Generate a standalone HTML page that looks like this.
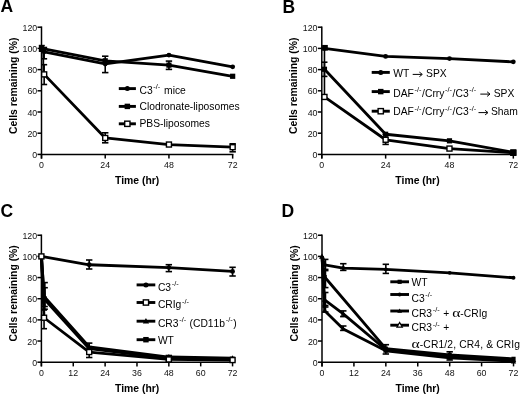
<!DOCTYPE html><html><head><meta charset="utf-8"><style>
html,body{margin:0;padding:0;background:#fff;}
body{width:520px;height:394px;overflow:hidden;}
svg{display:block;font-family:"Liberation Sans", sans-serif;filter:blur(0.3px);}
.tk{font-size:8.8px;fill:#111;}
.ttl{font-size:17.5px;font-weight:bold;fill:#000;}
.lab{font-size:10.4px;font-weight:bold;fill:#000;}
.lg{font-size:10.3px;fill:#000;font-kerning:none;}
.sp{font-size:6.4px;}
</style></head><body>
<svg width="520" height="394" viewBox="0 0 520 394">
<rect width="520" height="394" fill="#fff"/>
<line x1="41.50" y1="26.45" x2="41.50" y2="158.60" stroke="#000" stroke-width="1.5"/>
<line x1="40.75" y1="154.40" x2="233.41" y2="154.40" stroke="#000" stroke-width="1.5"/>
<line x1="37.50" y1="154.40" x2="41.50" y2="154.40" stroke="#000" stroke-width="1.5"/>
<text x="37.20" y="158.00" class="tk" text-anchor="end">0</text>
<line x1="37.50" y1="133.20" x2="41.50" y2="133.20" stroke="#000" stroke-width="1.5"/>
<text x="37.20" y="136.80" class="tk" text-anchor="end">20</text>
<line x1="37.50" y1="112.00" x2="41.50" y2="112.00" stroke="#000" stroke-width="1.5"/>
<text x="37.20" y="115.60" class="tk" text-anchor="end">40</text>
<line x1="37.50" y1="90.80" x2="41.50" y2="90.80" stroke="#000" stroke-width="1.5"/>
<text x="37.20" y="94.40" class="tk" text-anchor="end">60</text>
<line x1="37.50" y1="69.60" x2="41.50" y2="69.60" stroke="#000" stroke-width="1.5"/>
<text x="37.20" y="73.20" class="tk" text-anchor="end">80</text>
<line x1="37.50" y1="48.40" x2="41.50" y2="48.40" stroke="#000" stroke-width="1.5"/>
<text x="37.20" y="52.00" class="tk" text-anchor="end">100</text>
<line x1="37.50" y1="27.20" x2="41.50" y2="27.20" stroke="#000" stroke-width="1.5"/>
<text x="37.20" y="30.80" class="tk" text-anchor="end">120</text>
<line x1="41.50" y1="154.40" x2="41.50" y2="158.60" stroke="#000" stroke-width="1.5"/>
<text x="41.50" y="168.00" class="tk" text-anchor="middle">0</text>
<line x1="105.22" y1="154.40" x2="105.22" y2="158.60" stroke="#000" stroke-width="1.5"/>
<text x="105.22" y="168.00" class="tk" text-anchor="middle">24</text>
<line x1="168.94" y1="154.40" x2="168.94" y2="158.60" stroke="#000" stroke-width="1.5"/>
<text x="168.94" y="168.00" class="tk" text-anchor="middle">48</text>
<line x1="232.66" y1="154.40" x2="232.66" y2="158.60" stroke="#000" stroke-width="1.5"/>
<text x="232.66" y="168.00" class="tk" text-anchor="middle">72</text>
<text x="0.4" y="12.4" class="ttl">A</text>
<text transform="translate(17.0,85.8) rotate(-90)" class="lab" text-anchor="middle">Cells remaining (%)</text>
<text x="137.2" y="183.8" class="lab" text-anchor="middle">Time (hr)</text>
<line x1="44.16" y1="47.50" x2="44.16" y2="58.80" stroke="#000" stroke-width="1.6"/>
<line x1="41.16" y1="47.50" x2="47.16" y2="47.50" stroke="#000" stroke-width="1.6"/>
<line x1="41.16" y1="58.80" x2="47.16" y2="58.80" stroke="#000" stroke-width="1.6"/>
<line x1="44.16" y1="64.70" x2="44.16" y2="84.50" stroke="#000" stroke-width="1.6"/>
<line x1="41.16" y1="64.70" x2="47.16" y2="64.70" stroke="#000" stroke-width="1.6"/>
<line x1="41.16" y1="84.50" x2="47.16" y2="84.50" stroke="#000" stroke-width="1.6"/>
<line x1="43.3" y1="50" x2="43.3" y2="71.5" stroke="#000" stroke-width="1.8"/>
<line x1="41.80" y1="45.60" x2="41.80" y2="51.20" stroke="#000" stroke-width="1.6"/>
<line x1="38.80" y1="45.60" x2="44.80" y2="45.60" stroke="#000" stroke-width="1.6"/>
<line x1="38.80" y1="51.20" x2="44.80" y2="51.20" stroke="#000" stroke-width="1.6"/>
<line x1="105.22" y1="56.20" x2="105.22" y2="72.60" stroke="#000" stroke-width="1.6"/>
<line x1="102.02" y1="56.20" x2="108.42" y2="56.20" stroke="#000" stroke-width="1.6"/>
<line x1="102.02" y1="72.60" x2="108.42" y2="72.60" stroke="#000" stroke-width="1.6"/>
<line x1="168.94" y1="61.10" x2="168.94" y2="69.40" stroke="#000" stroke-width="1.6"/>
<line x1="165.74" y1="61.10" x2="172.14" y2="61.10" stroke="#000" stroke-width="1.6"/>
<line x1="165.74" y1="69.40" x2="172.14" y2="69.40" stroke="#000" stroke-width="1.6"/>
<line x1="105.22" y1="132.80" x2="105.22" y2="142.80" stroke="#000" stroke-width="1.6"/>
<line x1="102.02" y1="132.80" x2="108.42" y2="132.80" stroke="#000" stroke-width="1.6"/>
<line x1="102.02" y1="142.80" x2="108.42" y2="142.80" stroke="#000" stroke-width="1.6"/>
<line x1="232.66" y1="143.80" x2="232.66" y2="151.80" stroke="#000" stroke-width="1.6"/>
<line x1="229.46" y1="143.80" x2="235.86" y2="143.80" stroke="#000" stroke-width="1.6"/>
<line x1="229.46" y1="151.80" x2="235.86" y2="151.80" stroke="#000" stroke-width="1.6"/>
<polyline points="44.16,51.79 105.22,63.98 168.94,55.08 232.66,66.84" fill="none" stroke="#000" stroke-width="2.8" stroke-linejoin="round"/>
<polyline points="41.50,48.40 105.22,60.80 168.94,65.15 232.66,76.28" fill="none" stroke="#000" stroke-width="2.8" stroke-linejoin="round"/>
<polyline points="44.16,74.37 105.22,137.97 168.94,144.54 232.66,147.19" fill="none" stroke="#000" stroke-width="2.8" stroke-linejoin="round"/>
<circle cx="44.16" cy="51.79" r="2.40" fill="#000"/>
<circle cx="105.22" cy="63.98" r="2.40" fill="#000"/>
<circle cx="168.94" cy="55.08" r="2.40" fill="#000"/>
<circle cx="232.66" cy="66.84" r="2.40" fill="#000"/>
<rect x="38.90" y="45.80" width="5.20" height="5.20" fill="#000"/>
<rect x="102.62" y="58.20" width="5.20" height="5.20" fill="#000"/>
<rect x="166.34" y="62.55" width="5.20" height="5.20" fill="#000"/>
<rect x="230.06" y="73.68" width="5.20" height="5.20" fill="#000"/>
<rect x="41.66" y="71.87" width="5.00" height="5.00" fill="#fff" stroke="#000" stroke-width="1.4"/>
<rect x="102.72" y="135.47" width="5.00" height="5.00" fill="#fff" stroke="#000" stroke-width="1.4"/>
<rect x="166.44" y="142.04" width="5.00" height="5.00" fill="#fff" stroke="#000" stroke-width="1.4"/>
<rect x="230.16" y="144.69" width="5.00" height="5.00" fill="#fff" stroke="#000" stroke-width="1.4"/>
<line x1="118.80" y1="88.60" x2="135.90" y2="88.60" stroke="#000" stroke-width="2.9"/>
<circle cx="127.35" cy="88.60" r="2.52" fill="#000"/>
<line x1="118.80" y1="106.40" x2="135.90" y2="106.40" stroke="#000" stroke-width="2.9"/>
<rect x="124.62" y="103.67" width="5.46" height="5.46" fill="#000"/>
<line x1="118.80" y1="123.80" x2="135.90" y2="123.80" stroke="#000" stroke-width="2.9"/>
<rect x="124.72" y="121.17" width="5.25" height="5.25" fill="#fff" stroke="#000" stroke-width="1.4"/>
<text class="lg"><tspan x="139.50" y="93.60">C3</tspan><tspan x="153.37" y="89.20" font-size="7.3">-/-</tspan><tspan x="164.10" y="93.60">mice</tspan></text>
<text class="lg"><tspan x="139.50" y="109.80">Clodronate-liposomes</tspan></text>
<text class="lg"><tspan x="139.50" y="127.00">PBS-liposomes</tspan></text>
<line x1="321.80" y1="26.45" x2="321.80" y2="158.60" stroke="#000" stroke-width="1.5"/>
<line x1="321.05" y1="154.40" x2="514.07" y2="154.40" stroke="#000" stroke-width="1.5"/>
<line x1="317.80" y1="154.40" x2="321.80" y2="154.40" stroke="#000" stroke-width="1.5"/>
<text x="317.50" y="158.00" class="tk" text-anchor="end">0</text>
<line x1="317.80" y1="133.20" x2="321.80" y2="133.20" stroke="#000" stroke-width="1.5"/>
<text x="317.50" y="136.80" class="tk" text-anchor="end">20</text>
<line x1="317.80" y1="112.00" x2="321.80" y2="112.00" stroke="#000" stroke-width="1.5"/>
<text x="317.50" y="115.60" class="tk" text-anchor="end">40</text>
<line x1="317.80" y1="90.80" x2="321.80" y2="90.80" stroke="#000" stroke-width="1.5"/>
<text x="317.50" y="94.40" class="tk" text-anchor="end">60</text>
<line x1="317.80" y1="69.60" x2="321.80" y2="69.60" stroke="#000" stroke-width="1.5"/>
<text x="317.50" y="73.20" class="tk" text-anchor="end">80</text>
<line x1="317.80" y1="48.40" x2="321.80" y2="48.40" stroke="#000" stroke-width="1.5"/>
<text x="317.50" y="52.00" class="tk" text-anchor="end">100</text>
<line x1="317.80" y1="27.20" x2="321.80" y2="27.20" stroke="#000" stroke-width="1.5"/>
<text x="317.50" y="30.80" class="tk" text-anchor="end">120</text>
<line x1="321.80" y1="154.40" x2="321.80" y2="158.60" stroke="#000" stroke-width="1.5"/>
<text x="321.80" y="168.00" class="tk" text-anchor="middle">0</text>
<line x1="385.64" y1="154.40" x2="385.64" y2="158.60" stroke="#000" stroke-width="1.5"/>
<text x="385.64" y="168.00" class="tk" text-anchor="middle">24</text>
<line x1="449.48" y1="154.40" x2="449.48" y2="158.60" stroke="#000" stroke-width="1.5"/>
<text x="449.48" y="168.00" class="tk" text-anchor="middle">48</text>
<line x1="513.32" y1="154.40" x2="513.32" y2="158.60" stroke="#000" stroke-width="1.5"/>
<text x="513.32" y="168.00" class="tk" text-anchor="middle">72</text>
<text x="282.5" y="12.5" class="ttl">B</text>
<text transform="translate(297.3,85.8) rotate(-90)" class="lab" text-anchor="middle">Cells remaining (%)</text>
<text x="417.5" y="183.8" class="lab" text-anchor="middle">Time (hr)</text>
<line x1="324.46" y1="48.40" x2="324.46" y2="97.16" stroke="#000" stroke-width="1.6"/>
<line x1="324.36" y1="48.40" x2="324.56" y2="48.40" stroke="#000" stroke-width="1.6"/>
<line x1="324.36" y1="97.16" x2="324.56" y2="97.16" stroke="#000" stroke-width="1.6"/>
<line x1="324.46" y1="62.20" x2="324.46" y2="76.40" stroke="#000" stroke-width="1.6"/>
<line x1="321.46" y1="62.20" x2="327.46" y2="62.20" stroke="#000" stroke-width="1.6"/>
<line x1="321.46" y1="76.40" x2="327.46" y2="76.40" stroke="#000" stroke-width="1.6"/>
<line x1="385.64" y1="134.26" x2="385.64" y2="144.40" stroke="#000" stroke-width="1.6"/>
<line x1="382.44" y1="134.26" x2="388.84" y2="134.26" stroke="#000" stroke-width="1.6"/>
<line x1="382.44" y1="144.40" x2="388.84" y2="144.40" stroke="#000" stroke-width="1.6"/>
<polyline points="324.46,48.40 385.64,56.46 449.48,58.58 513.32,61.86" fill="none" stroke="#000" stroke-width="2.8" stroke-linejoin="round"/>
<polyline points="324.46,69.28 385.64,134.26 449.48,140.83 513.32,152.28" fill="none" stroke="#000" stroke-width="2.8" stroke-linejoin="round"/>
<polyline points="324.46,96.95 385.64,139.77 449.48,148.57 513.32,152.81" fill="none" stroke="#000" stroke-width="2.8" stroke-linejoin="round"/>
<circle cx="324.46" cy="48.40" r="2.40" fill="#000"/>
<circle cx="385.64" cy="56.46" r="2.40" fill="#000"/>
<circle cx="449.48" cy="58.58" r="2.40" fill="#000"/>
<circle cx="513.32" cy="61.86" r="2.40" fill="#000"/>
<rect x="321.96" y="94.45" width="5.00" height="5.00" fill="#fff" stroke="#000" stroke-width="1.4"/>
<rect x="383.14" y="137.27" width="5.00" height="5.00" fill="#fff" stroke="#000" stroke-width="1.4"/>
<rect x="446.98" y="146.07" width="5.00" height="5.00" fill="#fff" stroke="#000" stroke-width="1.4"/>
<rect x="510.82" y="150.31" width="5.00" height="5.00" fill="#fff" stroke="#000" stroke-width="1.4"/>
<rect x="321.86" y="66.68" width="5.20" height="5.20" fill="#000"/>
<rect x="383.04" y="131.66" width="5.20" height="5.20" fill="#000"/>
<rect x="446.88" y="138.23" width="5.20" height="5.20" fill="#000"/>
<rect x="510.33" y="149.29" width="5.98" height="5.98" fill="#000"/>
<rect x="322.10" y="44.94" width="5.72" height="5.72" fill="#000"/>
<line x1="371.70" y1="72.40" x2="389.80" y2="72.40" stroke="#000" stroke-width="2.9"/>
<circle cx="380.75" cy="72.40" r="2.52" fill="#000"/>
<line x1="371.70" y1="91.60" x2="389.80" y2="91.60" stroke="#000" stroke-width="2.9"/>
<rect x="378.02" y="88.87" width="5.46" height="5.46" fill="#000"/>
<line x1="371.70" y1="111.20" x2="389.80" y2="111.20" stroke="#000" stroke-width="2.9"/>
<rect x="378.12" y="108.58" width="5.25" height="5.25" fill="#fff" stroke="#000" stroke-width="1.4"/>
<path d="M412.70,74.40 H421.70 M419.40,72.10 L422.30,74.40 L419.40,76.70" fill="none" stroke="#000" stroke-width="1.0"/>
<text class="lg"><tspan x="393.30" y="76.80">WT</tspan><tspan x="426.10" y="76.80">SPX</tspan></text>
<path d="M480.30,94.10 H489.40 M487.10,91.80 L490.00,94.10 L487.10,96.40" fill="none" stroke="#000" stroke-width="1.0"/>
<text class="lg"><tspan x="393.30" y="96.50">DAF</tspan><tspan x="414.60" y="92.10" font-size="7.3">-/-</tspan><tspan x="422.10" y="96.50">/Crry</tspan><tspan x="445.11" y="92.10" font-size="7.3">-/-</tspan><tspan x="452.61" y="96.50">/C3</tspan><tspan x="469.34" y="92.10" font-size="7.3">-/-</tspan><tspan x="493.70" y="96.50">SPX</tspan></text>
<path d="M478.50,112.60 H487.40 M485.10,110.30 L488.00,112.60 L485.10,114.90" fill="none" stroke="#000" stroke-width="1.0"/>
<text class="lg"><tspan x="393.30" y="115.00">DAF</tspan><tspan x="414.60" y="110.60" font-size="7.3">-/-</tspan><tspan x="422.10" y="115.00">/Crry</tspan><tspan x="445.11" y="110.60" font-size="7.3">-/-</tspan><tspan x="452.61" y="115.00">/C3</tspan><tspan x="469.34" y="110.60" font-size="7.3">-/-</tspan><tspan x="491.00" y="115.00">Sham</tspan></text>
<line x1="41.40" y1="234.49" x2="41.40" y2="366.40" stroke="#000" stroke-width="1.5"/>
<line x1="40.65" y1="362.20" x2="233.31" y2="362.20" stroke="#000" stroke-width="1.5"/>
<line x1="37.40" y1="362.20" x2="41.40" y2="362.20" stroke="#000" stroke-width="1.5"/>
<text x="37.10" y="365.80" class="tk" text-anchor="end">0</text>
<line x1="37.40" y1="341.04" x2="41.40" y2="341.04" stroke="#000" stroke-width="1.5"/>
<text x="37.10" y="344.64" class="tk" text-anchor="end">20</text>
<line x1="37.40" y1="319.88" x2="41.40" y2="319.88" stroke="#000" stroke-width="1.5"/>
<text x="37.10" y="323.48" class="tk" text-anchor="end">40</text>
<line x1="37.40" y1="298.72" x2="41.40" y2="298.72" stroke="#000" stroke-width="1.5"/>
<text x="37.10" y="302.32" class="tk" text-anchor="end">60</text>
<line x1="37.40" y1="277.56" x2="41.40" y2="277.56" stroke="#000" stroke-width="1.5"/>
<text x="37.10" y="281.16" class="tk" text-anchor="end">80</text>
<line x1="37.40" y1="256.40" x2="41.40" y2="256.40" stroke="#000" stroke-width="1.5"/>
<text x="37.10" y="260.00" class="tk" text-anchor="end">100</text>
<line x1="37.40" y1="235.24" x2="41.40" y2="235.24" stroke="#000" stroke-width="1.5"/>
<text x="37.10" y="238.84" class="tk" text-anchor="end">120</text>
<line x1="41.40" y1="362.20" x2="41.40" y2="366.40" stroke="#000" stroke-width="1.5"/>
<text x="41.40" y="375.80" class="tk" text-anchor="middle">0</text>
<line x1="73.26" y1="362.20" x2="73.26" y2="366.40" stroke="#000" stroke-width="1.5"/>
<text x="73.26" y="375.80" class="tk" text-anchor="middle">12</text>
<line x1="105.12" y1="362.20" x2="105.12" y2="366.40" stroke="#000" stroke-width="1.5"/>
<text x="105.12" y="375.80" class="tk" text-anchor="middle">24</text>
<line x1="136.98" y1="362.20" x2="136.98" y2="366.40" stroke="#000" stroke-width="1.5"/>
<text x="136.98" y="375.80" class="tk" text-anchor="middle">36</text>
<line x1="168.84" y1="362.20" x2="168.84" y2="366.40" stroke="#000" stroke-width="1.5"/>
<text x="168.84" y="375.80" class="tk" text-anchor="middle">48</text>
<line x1="200.70" y1="362.20" x2="200.70" y2="366.40" stroke="#000" stroke-width="1.5"/>
<text x="200.70" y="375.80" class="tk" text-anchor="middle">60</text>
<line x1="232.56" y1="362.20" x2="232.56" y2="366.40" stroke="#000" stroke-width="1.5"/>
<text x="232.56" y="375.80" class="tk" text-anchor="middle">72</text>
<text x="0.6" y="217.4" class="ttl">C</text>
<text transform="translate(17.0,293.4) rotate(-90)" class="lab" text-anchor="middle">Cells remaining (%)</text>
<text x="137.2" y="391.6" class="lab" text-anchor="middle">Time (hr)</text>
<line x1="89.19" y1="260.00" x2="89.19" y2="269.00" stroke="#000" stroke-width="1.6"/>
<line x1="85.99" y1="260.00" x2="92.39" y2="260.00" stroke="#000" stroke-width="1.6"/>
<line x1="85.99" y1="269.00" x2="92.39" y2="269.00" stroke="#000" stroke-width="1.6"/>
<line x1="168.84" y1="264.70" x2="168.84" y2="271.60" stroke="#000" stroke-width="1.6"/>
<line x1="165.64" y1="264.70" x2="172.04" y2="264.70" stroke="#000" stroke-width="1.6"/>
<line x1="165.64" y1="271.60" x2="172.04" y2="271.60" stroke="#000" stroke-width="1.6"/>
<line x1="232.56" y1="267.30" x2="232.56" y2="276.00" stroke="#000" stroke-width="1.6"/>
<line x1="229.36" y1="267.30" x2="235.76" y2="267.30" stroke="#000" stroke-width="1.6"/>
<line x1="229.36" y1="276.00" x2="235.76" y2="276.00" stroke="#000" stroke-width="1.6"/>
<line x1="44.85" y1="282.60" x2="44.85" y2="309.20" stroke="#000" stroke-width="1.6"/>
<line x1="41.85" y1="282.60" x2="47.85" y2="282.60" stroke="#000" stroke-width="1.6"/>
<line x1="41.85" y1="309.20" x2="47.85" y2="309.20" stroke="#000" stroke-width="1.6"/>
<line x1="44.85" y1="287.70" x2="44.85" y2="306.50" stroke="#000" stroke-width="1.6"/>
<line x1="41.85" y1="287.70" x2="47.85" y2="287.70" stroke="#000" stroke-width="1.6"/>
<line x1="41.85" y1="306.50" x2="47.85" y2="306.50" stroke="#000" stroke-width="1.6"/>
<line x1="44.05" y1="310.00" x2="44.05" y2="328.70" stroke="#000" stroke-width="1.6"/>
<line x1="41.05" y1="310.00" x2="47.05" y2="310.00" stroke="#000" stroke-width="1.6"/>
<line x1="41.05" y1="328.70" x2="47.05" y2="328.70" stroke="#000" stroke-width="1.6"/>
<line x1="89.19" y1="343.10" x2="89.19" y2="357.50" stroke="#000" stroke-width="1.6"/>
<line x1="85.99" y1="343.10" x2="92.39" y2="343.10" stroke="#000" stroke-width="1.6"/>
<line x1="85.99" y1="357.50" x2="92.39" y2="357.50" stroke="#000" stroke-width="1.6"/>
<line x1="168.84" y1="355.50" x2="168.84" y2="361.00" stroke="#000" stroke-width="1.6"/>
<line x1="165.64" y1="355.50" x2="172.04" y2="355.50" stroke="#000" stroke-width="1.6"/>
<line x1="165.64" y1="361.00" x2="172.04" y2="361.00" stroke="#000" stroke-width="1.6"/>
<polyline points="41.40,256.40 89.19,264.76 168.84,267.61 232.56,271.42" fill="none" stroke="#000" stroke-width="2.8" stroke-linejoin="round"/>
<polyline points="41.40,256.40 44.05,298.72 89.19,348.45 168.84,358.18 232.56,359.24" fill="none" stroke="#000" stroke-width="3.0" stroke-linejoin="round"/>
<polyline points="41.40,256.40 44.05,296.60 89.19,346.96 168.84,357.12 232.56,358.18" fill="none" stroke="#000" stroke-width="3.0" stroke-linejoin="round"/>
<polyline points="41.40,256.40 44.05,317.76 89.19,352.04 168.84,359.45 232.56,360.08" fill="none" stroke="#000" stroke-width="2.8" stroke-linejoin="round"/>
<circle cx="89.19" cy="264.76" r="2.40" fill="#000"/>
<circle cx="168.84" cy="267.61" r="2.40" fill="#000"/>
<circle cx="232.56" cy="271.42" r="2.40" fill="#000"/>
<path d="M44.05,293.60 L47.05,298.85 L41.05,298.85 Z" fill="#000"/>
<path d="M89.19,343.96 L92.19,349.21 L86.19,349.21 Z" fill="#000"/>
<path d="M168.84,354.12 L171.84,359.37 L165.84,359.37 Z" fill="#000"/>
<path d="M232.56,355.18 L235.56,360.43 L229.56,360.43 Z" fill="#000"/>
<rect x="41.45" y="296.12" width="5.20" height="5.20" fill="#000"/>
<rect x="86.59" y="345.85" width="5.20" height="5.20" fill="#000"/>
<rect x="166.24" y="355.58" width="5.20" height="5.20" fill="#000"/>
<rect x="229.96" y="356.64" width="5.20" height="5.20" fill="#000"/>
<rect x="38.90" y="253.90" width="5.00" height="5.00" fill="#fff" stroke="#000" stroke-width="1.4"/>
<rect x="41.55" y="315.26" width="5.00" height="5.00" fill="#fff" stroke="#000" stroke-width="1.4"/>
<rect x="86.69" y="349.54" width="5.00" height="5.00" fill="#fff" stroke="#000" stroke-width="1.4"/>
<rect x="166.34" y="356.95" width="5.00" height="5.00" fill="#fff" stroke="#000" stroke-width="1.4"/>
<rect x="230.06" y="357.58" width="5.00" height="5.00" fill="#fff" stroke="#000" stroke-width="1.4"/>
<line x1="136.60" y1="284.90" x2="155.30" y2="284.90" stroke="#000" stroke-width="2.9"/>
<circle cx="145.95" cy="284.90" r="2.52" fill="#000"/>
<line x1="136.60" y1="302.50" x2="155.30" y2="302.50" stroke="#000" stroke-width="2.9"/>
<rect x="143.32" y="299.88" width="5.25" height="5.25" fill="#fff" stroke="#000" stroke-width="1.4"/>
<line x1="136.60" y1="321.20" x2="155.30" y2="321.20" stroke="#000" stroke-width="2.9"/>
<path d="M145.95,318.05 L149.10,323.56 L142.80,323.56 Z" fill="#000"/>
<line x1="136.60" y1="339.70" x2="155.30" y2="339.70" stroke="#000" stroke-width="2.9"/>
<rect x="143.22" y="336.97" width="5.46" height="5.46" fill="#000"/>
<text class="lg"><tspan x="157.90" y="290.80">C3</tspan><tspan x="171.77" y="286.40" font-size="7.3">-/-</tspan></text>
<text class="lg"><tspan x="157.90" y="308.40">CRIg</tspan><tspan x="182.07" y="304.00" font-size="7.3">-/-</tspan></text>
<text class="lg"><tspan x="157.90" y="326.60">CR3</tspan><tspan x="179.21" y="322.20" font-size="7.3">-/-</tspan><tspan x="186.71" y="326.60"> (CD11b</tspan><tspan x="225.76" y="322.20" font-size="7.3">-/-</tspan><tspan x="233.26" y="326.60">)</tspan></text>
<text class="lg"><tspan x="157.90" y="343.90">WT</tspan></text>
<line x1="322.00" y1="234.49" x2="322.00" y2="366.40" stroke="#000" stroke-width="1.5"/>
<line x1="321.25" y1="362.20" x2="514.27" y2="362.20" stroke="#000" stroke-width="1.5"/>
<line x1="318.00" y1="362.20" x2="322.00" y2="362.20" stroke="#000" stroke-width="1.5"/>
<text x="317.70" y="365.80" class="tk" text-anchor="end">0</text>
<line x1="318.00" y1="341.04" x2="322.00" y2="341.04" stroke="#000" stroke-width="1.5"/>
<text x="317.70" y="344.64" class="tk" text-anchor="end">20</text>
<line x1="318.00" y1="319.88" x2="322.00" y2="319.88" stroke="#000" stroke-width="1.5"/>
<text x="317.70" y="323.48" class="tk" text-anchor="end">40</text>
<line x1="318.00" y1="298.72" x2="322.00" y2="298.72" stroke="#000" stroke-width="1.5"/>
<text x="317.70" y="302.32" class="tk" text-anchor="end">60</text>
<line x1="318.00" y1="277.56" x2="322.00" y2="277.56" stroke="#000" stroke-width="1.5"/>
<text x="317.70" y="281.16" class="tk" text-anchor="end">80</text>
<line x1="318.00" y1="256.40" x2="322.00" y2="256.40" stroke="#000" stroke-width="1.5"/>
<text x="317.70" y="260.00" class="tk" text-anchor="end">100</text>
<line x1="318.00" y1="235.24" x2="322.00" y2="235.24" stroke="#000" stroke-width="1.5"/>
<text x="317.70" y="238.84" class="tk" text-anchor="end">120</text>
<line x1="322.00" y1="362.20" x2="322.00" y2="366.40" stroke="#000" stroke-width="1.5"/>
<text x="322.00" y="375.80" class="tk" text-anchor="middle">0</text>
<line x1="353.92" y1="362.20" x2="353.92" y2="366.40" stroke="#000" stroke-width="1.5"/>
<text x="353.92" y="375.80" class="tk" text-anchor="middle">12</text>
<line x1="385.84" y1="362.20" x2="385.84" y2="366.40" stroke="#000" stroke-width="1.5"/>
<text x="385.84" y="375.80" class="tk" text-anchor="middle">24</text>
<line x1="417.76" y1="362.20" x2="417.76" y2="366.40" stroke="#000" stroke-width="1.5"/>
<text x="417.76" y="375.80" class="tk" text-anchor="middle">36</text>
<line x1="449.68" y1="362.20" x2="449.68" y2="366.40" stroke="#000" stroke-width="1.5"/>
<text x="449.68" y="375.80" class="tk" text-anchor="middle">48</text>
<line x1="481.60" y1="362.20" x2="481.60" y2="366.40" stroke="#000" stroke-width="1.5"/>
<text x="481.60" y="375.80" class="tk" text-anchor="middle">60</text>
<line x1="513.52" y1="362.20" x2="513.52" y2="366.40" stroke="#000" stroke-width="1.5"/>
<text x="513.52" y="375.80" class="tk" text-anchor="middle">72</text>
<text x="281.4" y="217.0" class="ttl">D</text>
<text transform="translate(297.5,293.4) rotate(-90)" class="lab" text-anchor="middle">Cells remaining (%)</text>
<text x="417.7" y="391.6" class="lab" text-anchor="middle">Time (hr)</text>
<line x1="343.28" y1="263.70" x2="343.28" y2="270.40" stroke="#000" stroke-width="1.6"/>
<line x1="340.08" y1="263.70" x2="346.48" y2="263.70" stroke="#000" stroke-width="1.6"/>
<line x1="340.08" y1="270.40" x2="346.48" y2="270.40" stroke="#000" stroke-width="1.6"/>
<line x1="385.84" y1="264.30" x2="385.84" y2="273.40" stroke="#000" stroke-width="1.6"/>
<line x1="382.64" y1="264.30" x2="389.04" y2="264.30" stroke="#000" stroke-width="1.6"/>
<line x1="382.64" y1="273.40" x2="389.04" y2="273.40" stroke="#000" stroke-width="1.6"/>
<line x1="343.28" y1="310.90" x2="343.28" y2="316.60" stroke="#000" stroke-width="1.6"/>
<line x1="340.08" y1="310.90" x2="346.48" y2="310.90" stroke="#000" stroke-width="1.6"/>
<line x1="340.08" y1="316.60" x2="346.48" y2="316.60" stroke="#000" stroke-width="1.6"/>
<line x1="343.28" y1="326.00" x2="343.28" y2="330.40" stroke="#000" stroke-width="1.6"/>
<line x1="340.08" y1="326.00" x2="346.48" y2="326.00" stroke="#000" stroke-width="1.6"/>
<line x1="340.08" y1="330.40" x2="346.48" y2="330.40" stroke="#000" stroke-width="1.6"/>
<line x1="385.84" y1="344.70" x2="385.84" y2="354.00" stroke="#000" stroke-width="1.6"/>
<line x1="382.64" y1="344.70" x2="389.04" y2="344.70" stroke="#000" stroke-width="1.6"/>
<line x1="382.64" y1="354.00" x2="389.04" y2="354.00" stroke="#000" stroke-width="1.6"/>
<line x1="449.68" y1="351.80" x2="449.68" y2="360.00" stroke="#000" stroke-width="1.6"/>
<line x1="446.48" y1="351.80" x2="452.88" y2="351.80" stroke="#000" stroke-width="1.6"/>
<line x1="446.48" y1="360.00" x2="452.88" y2="360.00" stroke="#000" stroke-width="1.6"/>
<line x1="325.46" y1="259.40" x2="325.46" y2="270.60" stroke="#000" stroke-width="1.6"/>
<line x1="322.46" y1="259.40" x2="328.46" y2="259.40" stroke="#000" stroke-width="1.6"/>
<line x1="322.46" y1="270.60" x2="328.46" y2="270.60" stroke="#000" stroke-width="1.6"/>
<line x1="325.46" y1="269.40" x2="325.46" y2="287.60" stroke="#000" stroke-width="1.6"/>
<line x1="322.46" y1="269.40" x2="328.46" y2="269.40" stroke="#000" stroke-width="1.6"/>
<line x1="322.46" y1="287.60" x2="328.46" y2="287.60" stroke="#000" stroke-width="1.6"/>
<line x1="325.46" y1="292.50" x2="325.46" y2="307.00" stroke="#000" stroke-width="1.6"/>
<line x1="322.46" y1="292.50" x2="328.46" y2="292.50" stroke="#000" stroke-width="1.6"/>
<line x1="322.46" y1="307.00" x2="328.46" y2="307.00" stroke="#000" stroke-width="1.6"/>
<line x1="325.46" y1="305.50" x2="325.46" y2="312.00" stroke="#000" stroke-width="1.6"/>
<line x1="322.46" y1="305.50" x2="328.46" y2="305.50" stroke="#000" stroke-width="1.6"/>
<line x1="322.46" y1="312.00" x2="328.46" y2="312.00" stroke="#000" stroke-width="1.6"/>
<polyline points="322.00,256.40 324.66,264.86 343.28,268.04 385.84,269.41 449.68,272.80 513.52,277.77" fill="none" stroke="#000" stroke-width="2.8" stroke-linejoin="round"/>
<polyline points="322.00,256.40 324.66,277.03 385.84,348.66 449.68,354.79 513.52,358.81" fill="none" stroke="#000" stroke-width="2.8" stroke-linejoin="round"/>
<polyline points="322.00,256.40 324.66,299.78 343.28,313.85 385.84,349.72 449.68,356.38 513.52,360.08" fill="none" stroke="#000" stroke-width="2.8" stroke-linejoin="round"/>
<polyline points="322.00,256.40 324.66,310.78 343.28,328.98 385.84,350.77 449.68,357.76 513.52,361.35" fill="none" stroke="#000" stroke-width="2.8" stroke-linejoin="round"/>
<circle cx="324.66" cy="264.86" r="1.92" fill="#000"/>
<circle cx="343.28" cy="268.04" r="1.92" fill="#000"/>
<circle cx="385.84" cy="269.41" r="1.92" fill="#000"/>
<circle cx="449.68" cy="272.80" r="1.92" fill="#000"/>
<circle cx="513.52" cy="277.77" r="1.92" fill="#000"/>
<rect x="322.58" y="274.95" width="4.16" height="4.16" fill="#000"/>
<rect x="383.76" y="346.58" width="4.16" height="4.16" fill="#000"/>
<rect x="447.60" y="352.71" width="4.16" height="4.16" fill="#000"/>
<rect x="511.44" y="356.73" width="4.16" height="4.16" fill="#000"/>
<path d="M324.66,297.08 L327.36,301.80 L321.96,301.80 Z" fill="#000"/>
<path d="M343.28,311.15 L345.98,315.87 L340.58,315.87 Z" fill="#000"/>
<path d="M385.84,347.02 L388.54,351.74 L383.14,351.74 Z" fill="#000"/>
<path d="M449.68,353.68 L452.38,358.41 L446.98,358.41 Z" fill="#000"/>
<path d="M513.52,357.38 L516.22,362.11 L510.82,362.11 Z" fill="#000"/>
<path d="M324.66,308.08 L327.36,312.81 L321.96,312.81 Z" fill="#000"/>
<path d="M343.28,326.28 L345.98,331.00 L340.58,331.00 Z" fill="#000"/>
<path d="M385.84,348.07 L388.54,352.80 L383.14,352.80 Z" fill="#000"/>
<path d="M449.68,355.06 L452.38,359.78 L446.98,359.78 Z" fill="#000"/>
<path d="M513.52,358.65 L516.22,363.38 L510.82,363.38 Z" fill="#000"/>
<path d="M322.00,253.40 L325.00,258.65 L319.00,258.65 Z" fill="#000"/>
<line x1="390.30" y1="281.80" x2="409.00" y2="281.80" stroke="#000" stroke-width="2.9"/>
<rect x="397.57" y="279.72" width="4.16" height="4.16" fill="#000"/>
<line x1="390.30" y1="294.50" x2="409.00" y2="294.50" stroke="#000" stroke-width="2.9"/>
<circle cx="399.65" cy="294.50" r="1.92" fill="#000"/>
<line x1="390.30" y1="311.00" x2="409.00" y2="311.00" stroke="#000" stroke-width="2.9"/>
<path d="M399.65,308.60 L402.05,312.80 L397.25,312.80 Z" fill="#000"/>
<line x1="390.30" y1="325.20" x2="409.00" y2="325.20" stroke="#000" stroke-width="2.9"/>
<path d="M399.65,322.50 L402.35,327.22 L396.95,327.22 Z" fill="#fff" stroke="#000" stroke-width="1.2"/>
<text class="lg"><tspan x="411.50" y="285.60">WT</tspan></text>
<text class="lg"><tspan x="411.50" y="301.50">C3</tspan><tspan x="425.37" y="297.10" font-size="7.3">-/-</tspan></text>
<text transform="translate(452.14,316.70) scale(1.2,1)" font-size="13.0" font-family="Liberation Serif" fill="#000">α</text>
<text class="lg"><tspan x="411.50" y="316.50">CR3</tspan><tspan x="432.81" y="312.10" font-size="7.3">-/-</tspan><tspan x="440.31" y="316.50"> + </tspan><tspan x="460.34" y="316.50">-CRIg</tspan></text>
<text class="lg"><tspan x="411.50" y="330.90">CR3</tspan><tspan x="432.81" y="326.50" font-size="7.3">-/-</tspan><tspan x="440.31" y="330.90"> +</tspan></text>
<text transform="translate(411.60,348.40) scale(1.2,1)" font-size="13.0" font-family="Liberation Serif" fill="#000">α</text>
<text class="lg" letter-spacing="0.13"><tspan x="419.80" y="348.20">-CR1/2, CR4, &amp; CRIg</tspan></text>
</svg></body></html>
